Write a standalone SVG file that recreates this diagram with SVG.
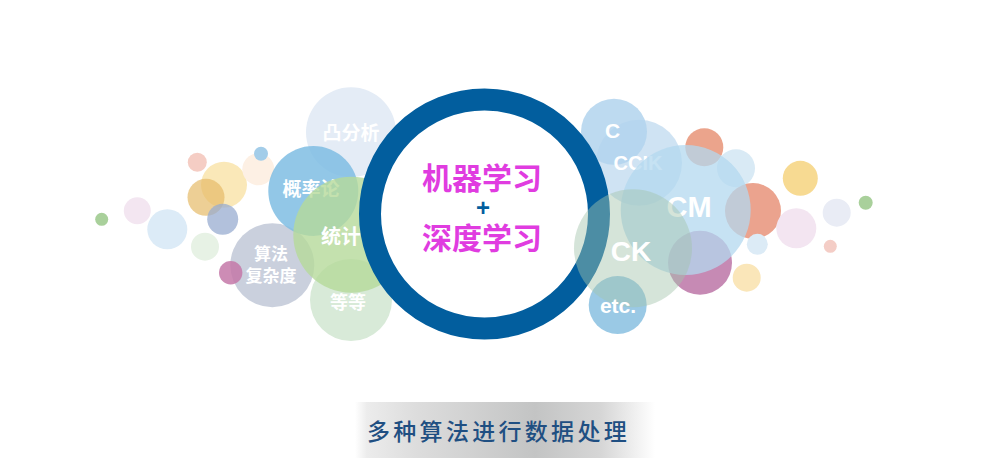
<svg xmlns="http://www.w3.org/2000/svg" width="1000" height="460" viewBox="0 0 1000 460">
  <defs>
    <linearGradient id="band" x1="355" y1="0" x2="655" y2="0" gradientUnits="userSpaceOnUse">
      <stop offset="0" stop-color="#ffffff"/>
      <stop offset="0.04" stop-color="#ececec"/>
      <stop offset="0.2" stop-color="#dddddd"/>
      <stop offset="0.6" stop-color="#c3c4c4"/>
      <stop offset="0.82" stop-color="#d6d6d6"/>
      <stop offset="1" stop-color="#ffffff"/>
    </linearGradient>
  </defs>
  <style>
    .cjk { font-family: "Noto Sans CJK SC", "Noto Sans", sans-serif; }
    .lbl { fill: #ffffff; font-weight: bold; text-anchor: middle; font-family: "Noto Sans CJK SC", "Noto Sans", sans-serif; }
    .lat { fill: #ffffff; font-weight: bold; text-anchor: middle; font-family: "Liberation Sans", Arial, sans-serif; }
    .main { fill: #e03ce0; font-weight: bold; font-size: 30px; text-anchor: middle; font-family: "Noto Sans CJK SC", sans-serif; }
  </style>
  <rect width="1000" height="460" fill="#ffffff"/>

  <!-- left bubbles -->
  <g id="left-small">
    <circle cx="101.7" cy="219.3" r="6.5" fill="#a9d09b"/>
    <circle cx="137.3" cy="210.7" r="13.5" fill="#f3e6f1"/>
    <circle cx="167.3" cy="229.3" r="20" fill="#dcebf7"/>
    <circle cx="205" cy="246.7" r="14" fill="#e7f2e5"/>
    <circle cx="197.3" cy="162.3" r="9.5" fill="#f5cdc4"/>
    <circle cx="224" cy="184.7" r="23" fill="#f9e4ab" opacity="0.85"/>
    <circle cx="206" cy="197.3" r="18.5" fill="#e6bb68" opacity="0.7"/>
    <circle cx="222.7" cy="219.3" r="15.5" fill="#98acd0" opacity="0.75"/>
    <circle cx="258.3" cy="169.3" r="16" fill="#fdf0e4"/>
    <circle cx="261" cy="153.7" r="7" fill="#a3cde9"/>
  </g>
  <g id="node-complexity">
    <circle cx="272.3" cy="265.3" r="42" fill="#c4cbd9" opacity="0.9"/>
    <circle cx="230.7" cy="272.7" r="11.7" fill="#c478a8" opacity="0.85"/>
    <text class="lbl" x="271" y="260" style="font-size:17px">算法</text>
    <text class="lbl" x="271" y="282" style="font-size:17px">复杂度</text>
  </g>
  <g id="node-convex">
    <circle cx="351" cy="132.3" r="45" fill="#e4ecf6"/>
    <text class="lbl" x="351" y="140" style="font-size:19px">凸分析</text>
  </g>
  <g id="node-prob">
    <circle cx="313.3" cy="191" r="45" fill="#7fbde3" opacity="0.85"/>
    <text class="lbl" x="311" y="196" style="font-size:19px">概率论</text>
  </g>
  <g id="node-etc-cn">
    <circle cx="351" cy="300" r="41" fill="#d8ead8"/>
  </g>
  <g id="node-stats">
    <circle cx="351.3" cy="234.7" r="58" fill="#b5d99a" opacity="0.8"/>
    <text class="lbl" x="321" y="244" style="font-size:20px;text-anchor:start">统计</text>
  </g>
  <g id="node-etc-cn-label">
    <text class="lbl" x="348" y="309" style="font-size:18px">等等</text>
  </g>

  <!-- right bubbles -->
  <g id="right-small">
    <circle cx="704.3" cy="147.3" r="19" fill="#eba48c"/>
    <circle cx="736" cy="168.3" r="19" fill="#d9eaf5"/>
    <circle cx="753" cy="211" r="28" fill="#eba38e"/>
    <circle cx="700" cy="262.7" r="32" fill="#c68ab4"/>
    <circle cx="800.3" cy="178.3" r="17.5" fill="#f7da92"/>
    <circle cx="796.3" cy="228.3" r="20" fill="#f3e5f1"/>
    <circle cx="836.7" cy="212.7" r="14" fill="#e9ecf5"/>
    <circle cx="865.7" cy="202.7" r="7" fill="#a9d09b"/>
    <circle cx="830.3" cy="246.3" r="6.5" fill="#f4cdc6"/>
    <circle cx="757.3" cy="244.3" r="10.5" fill="#dcebf6"/>
    <circle cx="746.7" cy="277.7" r="14" fill="#fae6b9"/>
  </g>
  <g id="node-ccik">
    <circle cx="639" cy="162.7" r="43" fill="#c3dcf0" opacity="0.8"/>
  </g>
  <g id="node-c">
    <circle cx="614" cy="131.7" r="33" fill="#b2d4ed" opacity="0.85"/>
    <text class="lat" x="612.5" y="137.5" font-size="21">C</text>
  </g>
  <g id="node-ccik-label">
    <text class="lat" x="638" y="170" font-size="20">CCIK</text>
  </g>
  <g id="node-cm">
    <circle cx="685.7" cy="210" r="65" fill="#b3d8ef" opacity="0.75"/>
    <text class="lat" x="689" y="217" font-size="29">CM</text>
  </g>

  <!-- central ring -->
  <g id="node-center">
    <circle cx="484.5" cy="214" r="114.5" fill="#ffffff" stroke="#025e9e" stroke-width="22"/>
    <text class="main" x="482" y="189">机器学习</text>
    <text x="483" y="216" font-family="Liberation Sans, Arial, sans-serif" font-weight="bold" font-size="24" fill="#025e9e" text-anchor="middle">+</text>
    <text class="main" x="482" y="249">深度学习</text>
  </g>

  <g id="node-etc">
    <circle cx="617.7" cy="305" r="29" fill="#8fc3e2" opacity="0.9"/>
  </g>
  <g id="node-ck">
    <circle cx="633" cy="248.3" r="59" fill="#a3c4ac" opacity="0.46"/>
    <text class="lat" x="631" y="261" font-size="28">CK</text>
  </g>
  <g id="node-etc-label">
    <text class="lat" x="618" y="313" font-size="21">etc.</text>
  </g>

  <!-- caption -->
  <g id="caption">
    <rect x="355" y="402" width="300" height="56" fill="url(#band)"/>
    <text class="cjk" x="367" y="440" font-size="23" font-weight="500" letter-spacing="3.3" fill="#1f4f82">多种算法进行数据处理</text>
  </g>
</svg>
